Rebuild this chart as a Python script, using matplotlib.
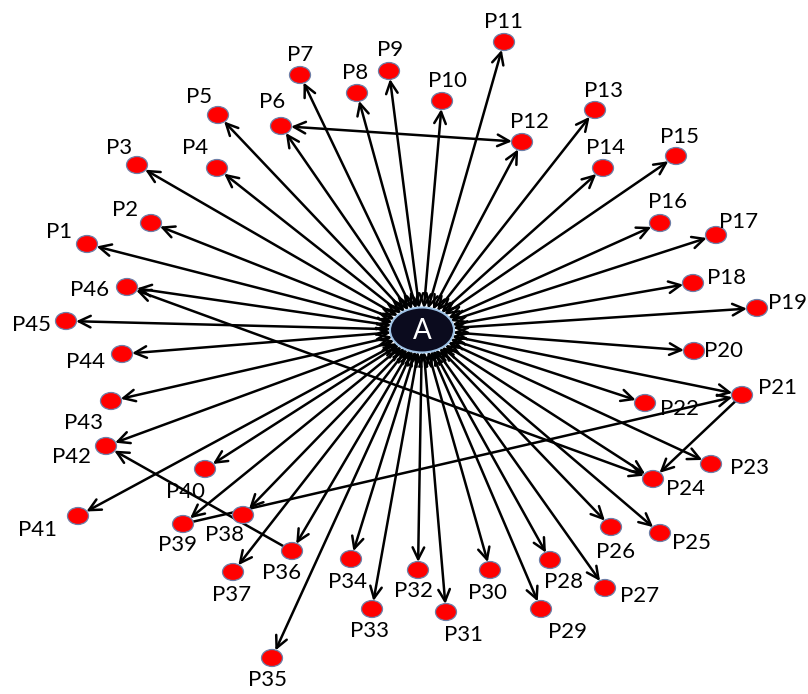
import matplotlib
matplotlib.use("Agg")
import matplotlib.pyplot as plt
from matplotlib.patches import Ellipse, FancyArrowPatch

# ---------------- data ----------------
hub_name = "A"
hub_xy = (422, 330)

node_names = [f"P{i}" for i in range(1, 47)]
node_x = [87, 151, 137, 217, 218, 281, 300, 357, 389, 442,
          504, 522, 595, 603, 676, 660, 716, 693, 757, 694,
          742, 645, 711, 653, 660, 611, 605, 550, 541, 490,
          446, 418, 372, 351, 272, 292, 233, 243, 183, 205,
          78, 106, 111, 122, 66, 127]
node_y = [244, 223, 165, 168, 115, 126, 75, 93, 71, 101,
          42, 142, 110, 168, 156, 223, 235, 283, 308, 351,
          395, 403, 464, 479, 533, 527, 588, 560, 609, 570,
          612, 570, 609, 559, 658, 551, 572, 515, 524, 469,
          516, 446, 401, 354, 321, 287]

# extra links between nodes: (from, to, style)
extra_links = [("P6", "P12", "<->"), ("P46", "P24", "<->"),
               ("P21", "P24", "->"), ("P39", "P21", "->"),
               ("P36", "P42", "->")]

# label offsets (pixels) relative to node
label_dx = [-28, -26, -18, -22, -19, -9, 0, -2, 1, 6,
            0, 8, 8, 2, 4, 8, 23, 34, 30, 30,
            35, 35, 39, 32, 32, 5, 35, 14, 26, -2,
            17, -5, -2, -4, -4, -10, -1, -18, -5, -20,
            -40, -35, -28, -36, -34, -37]
label_dy = [-12, -13, -17, -20, -18, -24, -20, -20, -21, -20,
            -20, -20, -19, -20, -19, -21, -13, -5, -5, 0,
            -7, 6, 4, 10, 10, 25, 8, 22, 23, 23,
            23, 21, 22, 23, 22, 22, 23, 20, 21, 23,
            14, 11, 22, 8, 4, 3]

# ---------------- figure ----------------
W, H = 808, 694
fig = plt.figure(figsize=(W / 100, H / 100), dpi=100)
ax = fig.add_axes([0, 0, 1, 1])
ax.set_xlim(0, W)
ax.set_ylim(H, 0)
ax.set_aspect("auto")
ax.axis("off")

font = ["Lato", "DejaVu Sans"]

hub = Ellipse(hub_xy, 64, 45, facecolor="#0b0b1e", edgecolor="#9fc3e6",
              lw=1.5, zorder=5)
ax.add_patch(hub)
ax.text(hub_xy[0], hub_xy[1] + 1, hub_name, color="white", fontsize=20,
        ha="center", va="center", family=font, zorder=6)

patches = {}
for name, x, y in zip(node_names, node_x, node_y):
    e = Ellipse((x, y), 21, 17, facecolor="#ff0000", edgecolor="#6c7fa8",
                lw=0.9, zorder=5)
    ax.add_patch(e)
    patches[name] = e

for name, x, y, dx, dy in zip(node_names, node_x, node_y, label_dx, label_dy):
    ax.text(x + dx, y + dy, name, fontsize=16, ha="center", va="center",
            family=font, color="black", zorder=7)

astyle = "{},head_length=0.65,head_width=0.32"

def link(p_from, p_to, xy_from, xy_to, style):
    a = FancyArrowPatch(xy_from, xy_to, arrowstyle=astyle.format(style),
                        mutation_scale=13, lw=1.8, color="black",
                        patchA=p_from, patchB=p_to, shrinkA=0, shrinkB=0,
                        zorder=3)
    ax.add_patch(a)

for name, x, y in zip(node_names, node_x, node_y):
    link(hub, patches[name], hub_xy, (x, y), "<->")

lookup = {n: (x, y) for n, x, y in zip(node_names, node_x, node_y)}
for a_name, b_name, st in extra_links:
    link(patches[a_name], patches[b_name], lookup[a_name], lookup[b_name], st)

fig.savefig("out.png", dpi=100, facecolor="white")
